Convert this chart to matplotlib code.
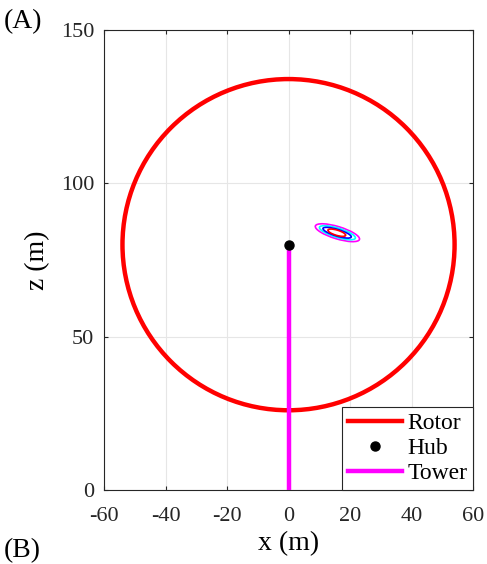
import numpy as np
import matplotlib
matplotlib.use("Agg")
import matplotlib.pyplot as plt
from matplotlib.patches import Circle, Ellipse

# ======= data =======
HUB_X = 0.0
HUB_Z = 80.0
ROTOR_R = 54.0
TOWER_Z = [0.0, 80.0]

# tilted ellipses (outer -> inner)
ELL_COLORS = ["#ff00ff", "#00ffff", "#0000ff", "#ff0000"]
ELL_CX = [15.9, 15.9, 15.8, 15.7]
ELL_CZ = [83.9, 83.9, 83.9, 83.9]
ELL_W = [15.0, 12.2, 9.6, 6.0]
ELL_H = [4.0, 3.0, 2.2, 1.7]
ELL_ANGLE = -17.0

XTICKS = [-60, -40, -20, 0, 20, 40, 60]
ZTICKS = [0, 50, 100, 150]

plt.rcParams["font.family"] = ["Liberation Serif", "DejaVu Serif"]
plt.rcParams["axes.unicode_minus"] = False

fig = plt.figure(figsize=(4.87, 5.64), dpi=100)
ax = fig.add_axes([0.2136, 0.1312, 0.7577, 0.8156])

rotor = Circle((HUB_X, HUB_Z), ROTOR_R, fill=False, color="#ff0000", lw=3.2, zorder=3)
ax.add_patch(rotor)

for c, cx, cz, w, h in zip(ELL_COLORS, ELL_CX, ELL_CZ, ELL_W, ELL_H):
    ax.add_patch(Ellipse((cx, cz), w, h, angle=ELL_ANGLE, fill=False,
                         edgecolor=c, lw=1.2, zorder=4))

l_rotor, = ax.plot([], [], color="#ff0000", lw=3.2, label="Rotor")
l_tower, = ax.plot([HUB_X, HUB_X], TOWER_Z, color="#ff00ff", lw=3.2,
                   label="Tower", zorder=4)
l_hub, = ax.plot([HUB_X], [HUB_Z], "o", color="black", ms=6.5,
                 label="Hub", zorder=5)

ax.set_xlim(-60, 60)
ax.set_ylim(0, 150)
ax.set_xticks(XTICKS)
ax.set_yticks(ZTICKS)
ax.grid(True, color="#e6e6e6", lw=0.8)
ax.set_axisbelow(True)
ax.tick_params(direction="in", length=3, top=True, right=True,
               labelsize=16, colors="#262626", labelcolor="#262626")
ax.tick_params(axis="x", pad=12)
ax.tick_params(axis="y", pad=7)
for s in ax.spines.values():
    s.set_color("#262626")
    s.set_linewidth(0.8)

ax.set_xlabel("x (m)", fontsize=20, labelpad=4)
ax.set_ylabel("z (m)", fontsize=20, labelpad=8)

leg = ax.legend([l_rotor, l_hub, l_tower], ["Rotor", "Hub", "Tower"],
                loc="lower right", fontsize=17, fancybox=False, framealpha=1,
                edgecolor="#262626", borderaxespad=0, handlelength=2.3,
                handletextpad=0.2, labelspacing=0.15, borderpad=0.25)
leg.get_frame().set_linewidth(0.8)

fig.text(0.008, 0.962, "(A)", fontsize=20, ha="left", va="center")
fig.text(0.008, 0.001, "(B)", fontsize=20, ha="left", va="bottom")

fig.savefig("out.png", dpi=100)
